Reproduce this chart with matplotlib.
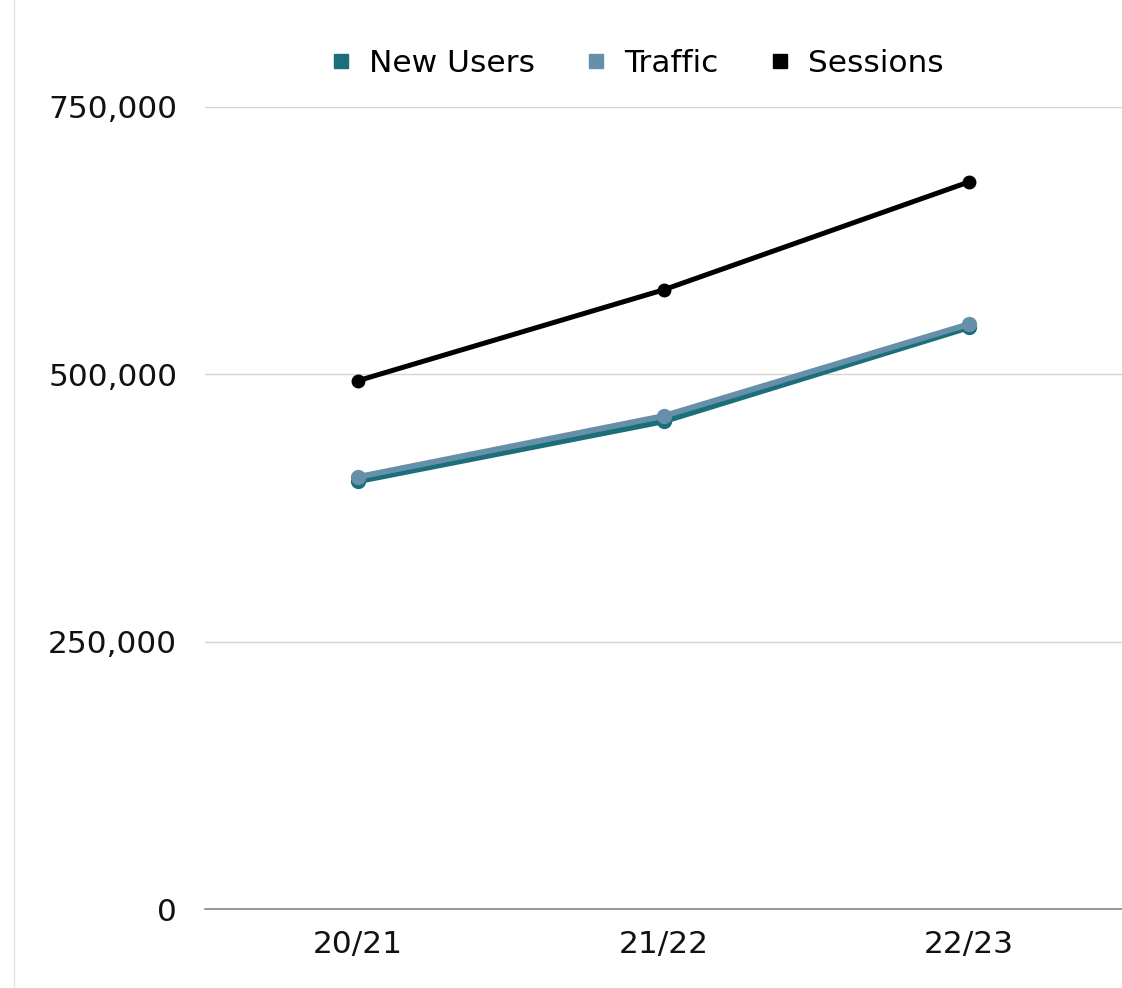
import matplotlib.pyplot as plt
from matplotlib.lines import Line2D
from matplotlib.ticker import FuncFormatter

plt.rcParams['font.family'] = ['DejaVu Sans']

seasons = ["20/21", "21/22", "22/23"]
new_users = [400000, 456000, 544000]
traffic = [404000, 461000, 547000]
sessions = [494000, 579000, 680000]

yticks = [0, 250000, 500000, 750000]

c_new = "#1b6f7a"
c_traffic = "#6690a9"
c_sessions = "#000000"

fig = plt.figure(figsize=(11.22, 9.88), dpi=100)
ax = fig.add_axes([205 / 1122, 79 / 988, 917 / 1122, 802 / 988])

x = range(len(seasons))
ax.plot(x, new_users, color=c_new, lw=4.2, marker="o", ms=10, label="New Users", zorder=3)
ax.plot(x, traffic, color=c_traffic, lw=4.2, marker="o", ms=10, label="Traffic", zorder=4)
ax.plot(x, sessions, color=c_sessions, lw=3.6, marker="o", ms=9, label="Sessions", zorder=5)

ax.set_xlim(-0.5, 2.5)
ax.set_ylim(0, 750000)
ax.set_xticks(list(x), seasons)
ax.set_yticks(yticks)
ax.yaxis.set_major_formatter(FuncFormatter(lambda v, p: f"{int(v):,}"))
ax.tick_params(length=0, labelsize=22.5, colors="#111111")
ax.tick_params(axis="y", pad=20)
ax.tick_params(axis="x", pad=15)

for s in ["top", "right", "left"]:
    ax.spines[s].set_visible(False)
ax.spines["bottom"].set_color("#888888")
ax.spines["bottom"].set_linewidth(1.2)
ax.grid(axis="y", color="#d4d4d4", lw=1)
ax.set_axisbelow(True)

handles = [Line2D([], [], ls="none", marker="s", ms=9.5, color=c)
           for c in (c_new, c_traffic, c_sessions)]
fig.legend(handles, ["New Users", "Traffic", "Sessions"], loc="center",
           bbox_to_anchor=(637 / 1122, 1 - 63 / 988), ncol=3, frameon=False,
           fontsize=22.5, handletextpad=0.55, columnspacing=1.6, handlelength=0.7)

# thin border on the left edge
fig.add_artist(Line2D([14 / 1122, 14 / 1122], [0, 1], color="#e2e2ea", lw=1,
                      transform=fig.transFigure))

fig.savefig("out.png", dpi=100)
